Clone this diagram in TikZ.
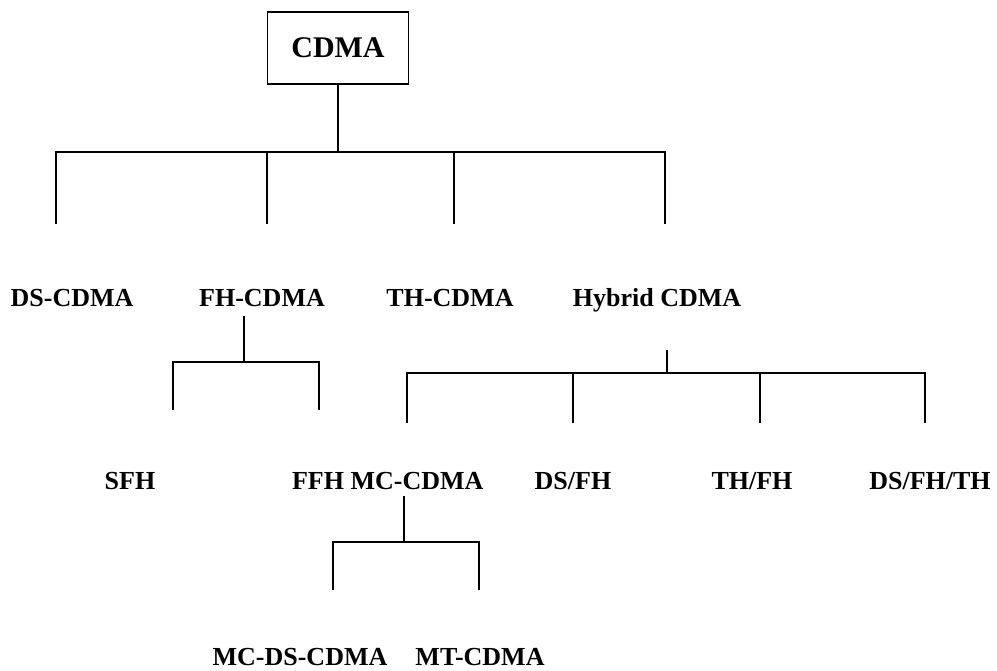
\documentclass[tikz,border=0pt]{standalone}
\usepackage{fontspec}
\setmainfont{Liberation Serif}
\begin{document}
\begin{tikzpicture}[x=1pt,y=-1pt,line width=2pt,
  lbl/.style={font=\fontsize{26}{28}\selectfont\bfseries,inner sep=0pt,anchor=base}]
\useasboundingbox (0,0) rectangle (997,671);
\node[draw,line width=1.8pt,minimum width=141pt,minimum height=72pt,font=\fontsize{30}{32}\selectfont\bfseries](cdma) at (338,48){CDMA};
% first level
\node[lbl](ds) at (72,307){DS-CDMA};
\node[lbl](fh) at (262,307){FH-CDMA};
\node[lbl](th) at (450,307){TH-CDMA};
\node[lbl](hyb) at (657,307){Hybrid CDMA};
% second level
\node[lbl](sfh) at (130,489){SFH};
\node[lbl](ffh) at (318,489){FFH};
\node[lbl](mc) at (417,489){MC-CDMA};
\node[lbl](dsfh) at (573,489){DS/FH};
\node[lbl](thfh) at (752,489){TH/FH};
\node[lbl](dsfhth) at (930,489){DS/FH/TH};
% third level
\node[lbl](mcds) at (300,665){MC-DS-CDMA};
\node[lbl](mt) at (480,665){MT-CDMA};
% junctions and leg ends
\coordinate (j0) at (338,152);
\coordinate (ds-end) at (56,224);
\coordinate (fh-end) at (267,224);
\coordinate (th-end) at (454,224);
\coordinate (hyb-end) at (665,224);
\coordinate (fh-j) at (244,362);
\coordinate (sfh-end) at (173,410);
\coordinate (ffh-end) at (319,410);
\coordinate (hyb-j) at (667,373);
\coordinate (mc-end) at (407,423);
\coordinate (dsfh-end) at (573,423);
\coordinate (thfh-end) at (760,423);
\coordinate (dsfhth-end) at (925,423);
\coordinate (mc-j) at (404,542);
\coordinate (mcds-end) at (333,590);
\coordinate (mt-end) at (479,590);
\draw (cdma) -- (j0);
\draw (ds-end) |- (j0) -| (hyb-end);
\foreach \e in {fh,th}
  \draw (\e-end) -- (\e-end |- j0);
\draw[shorten <=8pt] (fh.south -| fh-j) -- (fh-j);
\draw (sfh-end) |- (fh-j) -| (ffh-end);
\draw[shorten <=36pt] (hyb.south -| hyb-j) -- (hyb-j);
\draw (mc-end) |- (hyb-j) -| (dsfhth-end);
\foreach \e in {dsfh,thfh}
  \draw (\e-end) -- (\e-end |- hyb-j);
\draw[shorten <=6pt] (mc.south -| mc-j) -- (mc-j);
\draw (mcds-end) |- (mc-j) -| (mt-end);
\end{tikzpicture}
\end{document}
